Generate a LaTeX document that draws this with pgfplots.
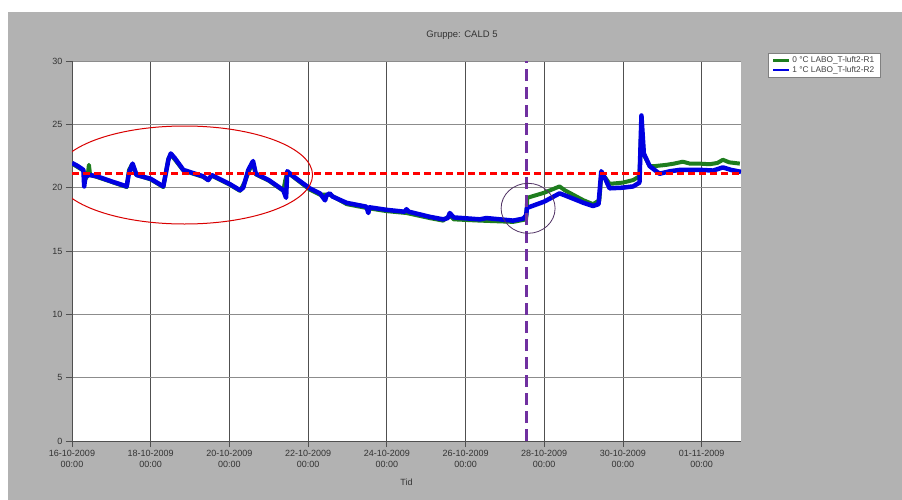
\documentclass[border=0pt]{standalone}
\usepackage{fontspec}
\setmainfont{Liberation Sans}
\usepackage{pgfplots}
\usepackage{pgfplotstable}
\pgfplotsset{compat=1.18}

\definecolor{bggray}{RGB}{178,178,178}
\definecolor{serieA}{RGB}{30,125,30}
\definecolor{serieB}{RGB}{0,0,225}
\definecolor{refpurple}{RGB}{112,48,160}
\definecolor{ringcol}{RGB}{80,50,100}
\definecolor{gridd}{RGB}{80,80,80}
\definecolor{gridl}{RGB}{140,140,140}

% dage efter 16-10-2009 00:00, temperatur
\pgfplotstableread{
d v
0.00 21.90
0.29 21.35
0.33 20.60
0.40 21.00
0.43 21.80
0.46 21.00
0.63 20.85
1.39 20.05
1.45 21.40
1.52 21.80
1.64 21.00
2.00 20.65
2.32 20.05
2.45 22.30
2.51 22.60
2.62 22.20
2.83 21.35
3.33 20.85
3.46 20.60
3.55 20.95
4.00 20.25
4.27 19.75
4.40 20.50
4.48 21.20
4.60 22.00
4.67 21.05
5.00 20.55
5.37 19.75
5.42 20.60
5.47 21.20
5.58 20.95
6.04 19.85
6.30 19.45
6.55 19.45
6.98 18.70
7.48 18.40
7.99 18.15
8.50 18.00
9.09 17.60
9.43 17.40
9.60 17.80
9.70 17.50
10.36 17.40
11.21 17.30
11.46 17.45
11.54 17.50
11.57 19.20
12.00 19.60
12.39 20.10
12.52 19.80
13.00 19.00
13.24 18.70
13.40 19.00
13.45 21.00
13.55 20.80
13.66 20.30
14.00 20.40
14.26 20.60
14.42 20.90
14.47 25.00
14.53 22.60
14.68 21.70
14.80 21.70
15.10 21.80
15.30 21.90
15.52 22.05
15.70 21.90
15.95 21.90
16.20 21.85
16.40 21.95
16.54 22.20
16.70 22.00
16.97 21.90
}\rone

\pgfplotstableread{
d v
0.00 21.95
0.15 21.70
0.29 21.40
0.31 20.10
0.34 20.90
0.45 21.00
0.63 20.90
1.00 20.50
1.39 20.10
1.45 21.20
1.54 21.90
1.64 21.00
2.00 20.70
2.32 20.10
2.45 22.20
2.51 22.70
2.62 22.30
2.83 21.40
3.33 20.90
3.46 20.60
3.55 21.00
4.00 20.30
4.27 19.80
4.35 20.00
4.48 21.40
4.60 22.10
4.67 21.10
5.00 20.60
5.37 19.80
5.44 19.20
5.47 21.30
5.58 21.00
6.04 19.95
6.30 19.55
6.43 19.00
6.47 19.40
6.55 19.55
6.62 19.30
6.98 18.80
7.48 18.50
7.53 18.00
7.56 18.45
7.99 18.25
8.45 18.10
8.50 18.30
8.56 18.10
9.09 17.70
9.43 17.50
9.55 17.60
9.60 18.00
9.70 17.65
10.36 17.50
10.53 17.60
11.21 17.40
11.46 17.55
11.54 17.80
11.56 18.40
12.00 18.90
12.39 19.55
12.52 19.40
13.00 18.80
13.24 18.55
13.38 18.70
13.45 21.30
13.55 20.70
13.66 19.95
14.00 20.00
14.26 20.10
14.42 20.40
14.47 25.70
14.53 22.70
14.68 21.70
14.93 21.10
15.20 21.30
15.44 21.40
16.00 21.40
16.29 21.35
16.54 21.60
16.75 21.40
17.00 21.25
}\rtwo

\begin{document}
\begin{tikzpicture}
\fill[white] (0,0) rectangle (902pt,-500pt);
\fill[bggray] (8pt,-12pt) rectangle (902pt,-500pt);

\begin{axis}[
    at={(72pt,-441pt)}, anchor=south west,
    scale only axis,
    width=669pt, height=380pt,
    xmin=0, xmax=17,
    ymin=0, ymax=30,
    axis lines*=left,
    axis line style={gridd, line width=0.8pt},
    axis background/.style={fill=white},
    xtick={0,2,...,16},
    xticklabels={{16-10-2009\\00:00},{18-10-2009\\00:00},{20-10-2009\\00:00},
                 {22-10-2009\\00:00},{24-10-2009\\00:00},{26-10-2009\\00:00},
                 {28-10-2009\\00:00},{30-10-2009\\00:00},{01-11-2009\\00:00}},
    xticklabel style={align=center, font=\fontsize{9}{11}\selectfont, text=black!80},
    ytick={0,5,...,30},
    yticklabel style={font=\fontsize{9}{11}\selectfont, text=black!80},
    /pgf/number format/assume math mode=true,
    tick align=outside,
    major tick length=6pt,
    tick style={gridd, line width=0.8pt},
    grid=major,
    x grid style={gridd, line width=0.8pt},
    y grid style={gridl, line width=0.8pt},
    title={Gruppe: CALD 5},
    title style={at={(0.583,1.074)}, anchor=center, yshift=-8pt, font=\fontsize{9.5}{11}\selectfont, text=black!80},
    xlabel={Tid},
    xlabel style={at={(axis description cs:0.5,-0.108)}, anchor=center, font=\fontsize{9}{11}\selectfont, text=black!80},
    legend style={at={(1.0404,1.021)}, anchor=north west, draw=gray, fill=white,
                  font=\fontsize{8.3}{8.5}\selectfont, text=black!75,
                  inner xsep=4pt, inner ysep=1.5pt, row sep=-2pt},
    legend cell align=left,
    legend image code/.code={\draw[line width=2.2pt] (0pt,0pt) -- (16pt,0pt);},
]

\addplot[serieA, line width=4pt, line join=round] table[x=d, y=v] {\rone};
\addlegendentry{0 °C LABO\_T-luft2-R1}
\addplot[serieB, line width=4.5pt, line join=round] table[x=d, y=v] {\rtwo};
\addlegendentry{1 °C LABO\_T-luft2-R2}

% referencelinjer
\addplot[red, line width=3pt, dash pattern=on 7pt off 4pt, forget plot] coordinates {(0,21.1) (17,21.1)};
\addplot[refpurple, line width=3pt, dash pattern=on 12pt off 6pt, forget plot] coordinates {(11.56,0) (11.56,30)};

\draw[red!85!black, line width=1pt] (axis cs:2.86,21.0) ellipse [x radius=128pt, y radius=49pt];
\draw[ringcol, line width=0.8pt] (axis cs:11.59,18.37) ellipse [x radius=27pt, y radius=25pt];
\end{axis}

\pgfresetboundingbox
\path[use as bounding box] (0,0) rectangle (902pt,-500pt);
\end{tikzpicture}
\end{document}
